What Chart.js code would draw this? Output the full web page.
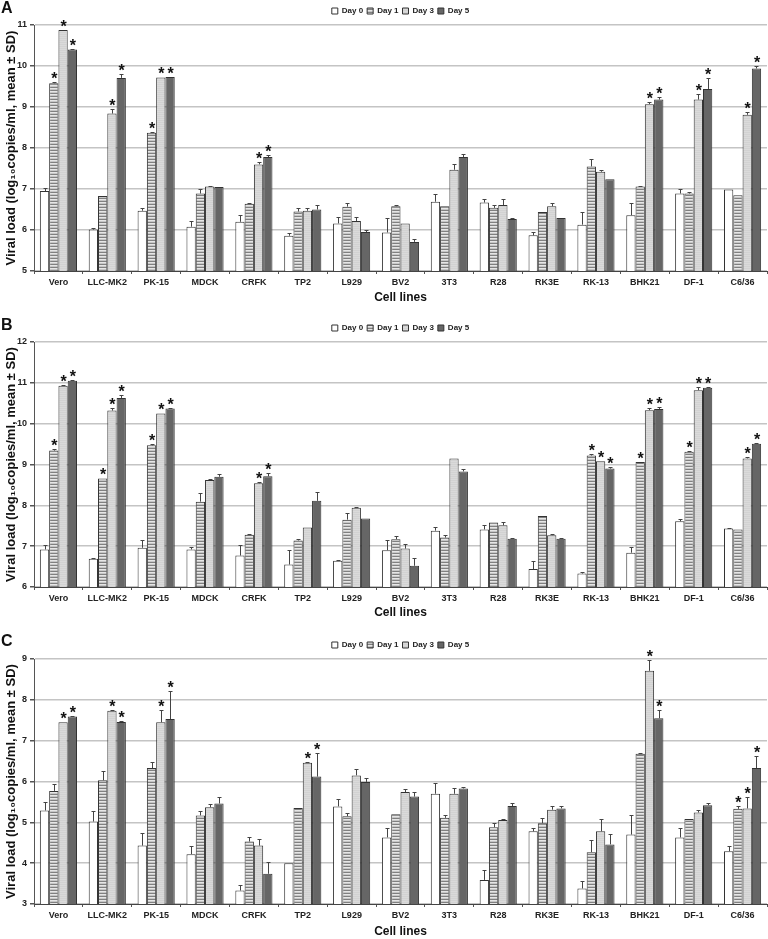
<!DOCTYPE html>
<html><head><meta charset="utf-8">
<script src="https://cdn.jsdelivr.net/npm/chart.js@4.4.1/dist/chart.umd.min.js"></script>
<style>
body{margin:0;background:#fff;}
#wrap{position:relative;width:768px;height:939px;overflow:hidden;}
canvas{position:absolute;left:0;}
.lbl{position:absolute;left:1px;font:bold 16px 'Liberation Sans',Arial,sans-serif;color:#111;line-height:18px;}
</style></head><body>
<div id="wrap">
<canvas id="cA" width="768" height="310" style="top:0"></canvas>
<canvas id="cB" width="768" height="310" style="top:310px"></canvas>
<canvas id="cC" width="768" height="319" style="top:620px"></canvas>
<div class="lbl" style="top:-1px">A</div>
<div class="lbl" style="top:316px">B</div>
<div class="lbl" style="top:632px">C</div>
</div>
<script>
// ---------- DATA ----------
const cellLines = ['Vero','LLC-MK2','PK-15','MDCK','CRFK','TP2','L929','BV2','3T3','R28','RK3E','RK-13','BHK21','DF-1','C6/36'];
const dayLabels = ['Day 0','Day 1','Day 3','Day 5'];

// Panel A
const aRange = [5, 11];
const aDay0 = [6.95,6.01,6.47,6.08,6.20,5.86,6.16,5.94,6.69,6.67,5.87,6.13,6.36,6.89,6.99];
const aSd0  = [0.07,0.05,0.06,0.14,0.16,0.07,0.15,0.36,0.18,0.08,0.08,0.30,0.30,0.12,0.02];
const aDay1 = [9.58,6.83,8.37,6.89,6.64,6.45,6.57,6.58,6.58,6.54,6.44,7.55,7.06,6.89,6.85];
const aSd1  = [0.02,0.01,0.01,0.11,0.02,0.08,0.10,0.04,0.01,0.07,0.01,0.19,0.01,0.04,0.01];
const aDay3 = [10.88,8.84,9.72,7.06,7.60,6.47,6.22,6.16,7.47,6.61,6.58,7.42,9.07,9.18,8.81];
const aSd3  = [0.01,0.10,0.02,0.01,0.05,0.07,0.09,0.02,0.15,0.14,0.07,0.04,0.04,0.13,0.07];
const aDay5 = [10.40,9.71,9.73,7.05,7.78,6.50,5.95,5.71,7.78,6.27,6.29,7.24,9.18,9.44,9.94];
const aSd5  = [0.01,0.10,0.01,0.01,0.05,0.12,0.05,0.07,0.07,0.03,0.01,0.01,0.06,0.26,0.05];
const aStar0 = [0,0,0,0,0,0,0,0,0,0,0,0,0,0,0];
const aStar1 = [1,0,1,0,0,0,0,0,0,0,0,0,0,0,0];
const aStar3 = [1,1,1,0,1,0,0,0,0,0,0,0,1,1,1];
const aStar5 = [1,1,1,0,1,0,0,0,0,0,0,0,1,1,1];

// Panel B
const bRange = [6, 12];
const bDay0 = [6.92,6.69,6.96,6.92,6.77,6.55,6.64,6.90,7.38,7.41,6.44,6.33,6.84,7.61,7.43];
const bSd0  = [0.12,0.01,0.20,0.05,0.27,0.35,0.01,0.24,0.10,0.11,0.20,0.04,0.13,0.05,0.01];
const bDay1 = [9.34,8.66,9.47,8.09,7.28,7.14,7.65,7.17,7.21,7.58,7.74,9.22,9.06,9.31,7.41];
const bSd1  = [0.05,0.01,0.03,0.22,0.02,0.03,0.17,0.07,0.06,0.02,0.01,0.03,0.01,0.01,0.01];
const bDay3 = [10.93,10.32,10.25,8.62,8.54,7.46,7.94,6.94,9.15,7.51,7.27,9.08,10.33,10.82,9.15];
const bSd3  = [0.01,0.07,0.01,0.02,0.02,0.01,0.02,0.12,0.01,0.09,0.02,0.01,0.05,0.07,0.04];
const bDay5 = [11.05,10.63,10.37,8.70,8.71,8.11,7.68,6.52,8.83,7.18,7.18,8.90,10.36,10.88,9.51];
const bSd5  = [0.01,0.08,0.01,0.07,0.09,0.21,0.01,0.18,0.07,0.01,0.02,0.04,0.04,0.03,0.01];
const bStar0 = [0,0,0,0,0,0,0,0,0,0,0,0,0,0,0];
const bStar1 = [1,1,1,0,0,0,0,0,0,0,0,1,1,1,0];
const bStar3 = [1,1,1,0,1,0,0,0,0,0,0,1,1,1,1];
const bStar5 = [1,1,1,0,1,0,0,0,0,0,0,1,1,1,1];

// Panel C
const cRange = [3, 9];
const cDay0 = [5.29,5.02,4.43,4.22,3.33,4.00,5.39,4.63,5.70,3.59,4.78,3.38,4.70,4.63,4.29];
const cSd0  = [0.22,0.25,0.30,0.20,0.13,0.01,0.18,0.22,0.26,0.24,0.07,0.18,0.49,0.22,0.14];
const cDay1 = [5.77,6.03,6.33,5.17,4.53,5.35,5.15,5.20,5.11,4.88,4.98,4.27,6.68,5.08,5.33];
const cSd1  = [0.17,0.23,0.14,0.10,0.10,0.01,0.07,0.01,0.07,0.11,0.13,0.30,0.01,0.01,0.06];
const cDay3 = [7.45,7.73,7.45,5.37,4.43,6.46,6.15,5.74,5.70,5.06,5.31,4.78,8.71,5.24,5.34];
const cSd3  = [0.01,0.01,0.29,0.09,0.16,0.01,0.15,0.07,0.15,0.01,0.09,0.30,0.26,0.05,0.28];
const cDay5 = [7.59,7.46,7.53,5.46,3.74,6.12,5.99,5.63,5.83,5.40,5.34,4.46,7.55,5.42,6.33];
const cSd5  = [0.01,0.01,0.69,0.17,0.30,0.57,0.10,0.11,0.03,0.08,0.07,0.26,0.21,0.06,0.29];
const cStar0 = [0,0,0,0,0,0,0,0,0,0,0,0,0,0,0];
const cStar1 = [0,0,0,0,0,0,0,0,0,0,0,0,0,0,1];
const cStar3 = [1,1,1,0,0,1,0,0,0,0,0,0,1,0,1];
const cStar5 = [1,1,1,0,0,1,0,0,0,0,0,0,1,0,1];

// ---------- STYLE ----------
const NARROW = "'Liberation Sans Narrow','Arial Narrow','Liberation Sans',Arial,sans-serif";
const SANS = "'Liberation Sans',Arial,sans-serif";
const yTitle = 'Viral load (log\u2081\u2080copies/ml, mean \u00b1 SD)';

function makePattern(rows, w) {
  const c = document.createElement('canvas');
  c.width = w; c.height = rows.length;
  const g = c.getContext('2d');
  rows.forEach((col, i) => { g.fillStyle = col; g.fillRect(0, i, w, 1); });
  return g.createPattern(c, 'repeat');
}
const fillDay0 = '#ffffff';
const fillDay1 = makePattern(['#808080', '#e6e6e6', '#c6c6c6'], 4);
const fillDay3 = makePattern(['#d2d2d2', '#dadada'], 2);
const fillDay5 = '#666666';
const fills = [fillDay0, fillDay1, fillDay3, fillDay5];

const errStarPlugin = {
  id: 'errstar',
  afterDatasetsDraw(chart) {
    const ctx = chart.ctx, y = chart.scales.y;
    chart.data.datasets.forEach((ds, i) => {
      const meta = chart.getDatasetMeta(i);
      meta.data.forEach((bar, j) => {
        const v = ds.data[j], sd = ds.sd[j];
        const yt = Math.round(y.getPixelForValue(v + sd));
        const xb = Math.round(bar.x);
        ctx.save();
        ctx.strokeStyle = '#444'; ctx.lineWidth = 1;
        if (yt < bar.y - 0.5) {
          ctx.beginPath();
          ctx.moveTo(xb + 0.5, bar.y); ctx.lineTo(xb + 0.5, yt);
          ctx.moveTo(xb - 1.5, yt + 0.5); ctx.lineTo(xb + 2.5, yt + 0.5);
          ctx.stroke();
        }
        if (ds.star[j]) {
          ctx.fillStyle = '#111';
          ctx.font = 'bold 16px ' + SANS;
          ctx.textAlign = 'center';
          ctx.textBaseline = 'alphabetic';
          ctx.fillText('*', bar.x + 0.5, Math.min(yt, bar.y) + 2);
        }
        ctx.restore();
      });
    });
  }
};

function panel(id, range, days, sds, stars, lay) {
  const datasets = dayLabels.map((lab, k) => ({
    label: lab,
    data: days[k],
    sd: sds[k],
    star: stars[k],
    backgroundColor: fills[k],
    borderColor: '#333',
    borderWidth: 1,
    categoryPercentage: 0.76,
    barPercentage: 1.0
  }));
  new Chart(document.getElementById(id), {
    type: 'bar',
    data: { labels: cellLines, datasets },
    options: {
      responsive: false, animation: false, devicePixelRatio: 1,
      layout: { padding: { top: lay.padTop, left: 0, right: 1, bottom: 0 } },
      plugins: {
        legend: {
          position: 'top', fullSize: false,
          labels: { boxWidth: 6, boxHeight: 6, padding: 4, color: '#222',
                    font: { size: 8, weight: 'bold', family: NARROW } }
        },
        tooltip: { enabled: false }
      },
      scales: {
        x: {
          grid: { display: true, drawOnChartArea: false, drawTicks: true, tickLength: 3, tickColor: '#555', offset: true },
          border: { color: '#444', width: 1 },
          ticks: { autoSkip: false, maxRotation: 0, minRotation: 0, padding: 3, color: '#222',
                   font: { size: 9, weight: 'bold', family: NARROW } },
          title: { display: true, text: 'Cell lines', color: '#111',
                   font: { size: 12, weight: 'bold', family: SANS },
                   padding: { top: 0, bottom: lay.titleBottom } },
          afterFit(s) { s.height = lay.xh; }
        },
        y: {
          min: range[0], max: range[1],
          ticks: { stepSize: 1, padding: 3, color: '#222', font: { size: 9, weight: 'bold', family: NARROW } },
          grid: { color: '#c4c4c4', lineWidth: 1.5, tickLength: 4, tickColor: '#555' },
          border: { color: '#555', width: 1 },
          title: { display: true, text: yTitle, color: '#111',
                   font: { size: 13, weight: 'bold', family: SANS },
                   padding: { top: 4, bottom: 0 } },
          afterFit(s) { s.width = 34; }
        }
      }
    },
    plugins: [errStarPlugin]
  });
}

panel('cA', aRange, [aDay0, aDay1, aDay3, aDay5], [aSd0, aSd1, aSd3, aSd5], [aStar0, aStar1, aStar3, aStar5],
      { padTop: 3, xh: 39, titleBottom: 5 });
panel('cB', bRange, [bDay0, bDay1, bDay3, bDay5], [bSd0, bSd1, bSd3, bSd5], [bStar0, bStar1, bStar3, bStar5],
      { padTop: 10, xh: 33, titleBottom: 0 });
panel('cC', cRange, [cDay0, cDay1, cDay3, cDay5], [cSd0, cSd1, cSd3, cSd5], [cStar0, cStar1, cStar3, cStar5],
      { padTop: 17, xh: 35, titleBottom: 0 });
</script>
</body></html>
